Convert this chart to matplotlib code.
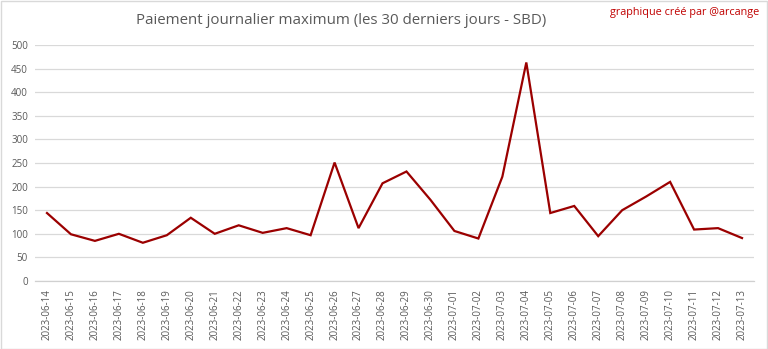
import matplotlib
matplotlib.use("Agg")
import matplotlib.pyplot as plt
from matplotlib.patches import Rectangle

dates = [
    "2023-06-14", "2023-06-15", "2023-06-16", "2023-06-17", "2023-06-18",
    "2023-06-19", "2023-06-20", "2023-06-21", "2023-06-22", "2023-06-23",
    "2023-06-24", "2023-06-25", "2023-06-26", "2023-06-27", "2023-06-28",
    "2023-06-29", "2023-06-30", "2023-07-01", "2023-07-02", "2023-07-03",
    "2023-07-04", "2023-07-05", "2023-07-06", "2023-07-07", "2023-07-08",
    "2023-07-09", "2023-07-10", "2023-07-11", "2023-07-12", "2023-07-13",
]
max_payout = [
    144, 99, 85, 100, 81, 97, 134, 100, 118, 102,
    112, 97, 251, 112, 207, 232, 172, 106, 90, 221,
    463, 144, 159, 95, 150, 179, 210, 109, 112, 91,
]
y_ticks = list(range(0, 501, 50))

W, H = 768, 349
fig = plt.figure(figsize=(W / 100, H / 100), dpi=100)
fig.patch.set_facecolor("white")

left, right, top, bottom = 35, 754, 45, 281
ax = fig.add_axes([left / W, 1 - bottom / H, (right - left) / W, (bottom - top) / H])

x = list(range(len(dates)))
ax.plot(x, max_payout, color="#9b0000", linewidth=1.6, solid_joinstyle="miter")

ax.set_xlim(-0.5, len(dates) - 0.5)
ax.set_ylim(0, 500)
ax.set_yticks(y_ticks)
ax.set_xticks(x)
ax.set_xticklabels(dates, rotation=90, fontsize=7, color="#595959", family=["Open Sans", "DejaVu Sans"])
ax.set_yticklabels([str(v) for v in y_ticks], fontsize=7, color="#595959", family=["Open Sans", "DejaVu Sans"])
ax.tick_params(length=0, pad=5)
ax.tick_params(axis="x", pad=6)

ax.grid(axis="y", color="#d9d9d9", linewidth=0.9)
ax.set_axisbelow(True)
for side in ("top", "right", "left"):
    ax.spines[side].set_visible(False)
ax.spines["bottom"].set_color("#d0d0d0")
ax.spines["bottom"].set_linewidth(0.9)

fig.text(341 / W, 1 - 21 / H, "Paiement journalier maximum (les 30 derniers jours - SBD)",
         ha="center", va="center", fontsize=10.8, color="#595959",
         family=["Open Sans", "DejaVu Sans"])
fig.text(1 - 9 / W, 1 - 13 / H, "graphique créé par @arcange",
         ha="right", va="center", fontsize=7.8, color="#c00000",
         family=["Open Sans", "DejaVu Sans"])

fig.add_artist(Rectangle((0.5 / W, 0.5 / H), 1 - 1.5 / W, 1 - 1.5 / H,
                         transform=fig.transFigure, fill=False,
                         edgecolor="#d9d9d9", linewidth=1))

fig.savefig("out.png", dpi=100, facecolor="white")
